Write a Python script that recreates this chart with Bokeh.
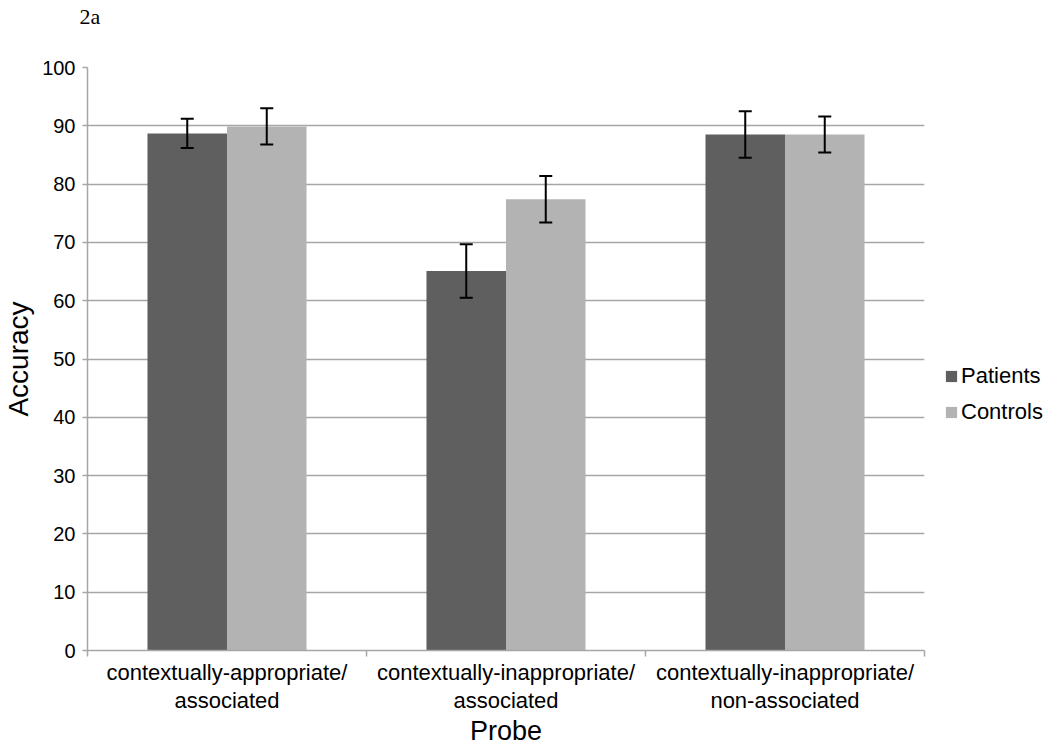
from bokeh.plotting import figure
from bokeh.models import (ColumnDataSource, FixedTicker, Whisker, TeeHead, Legend,
                          LegendItem, Range1d)
from bokeh.transform import dodge
from bokeh.embed import file_html
from bokeh.resources import INLINE

categories = ["contextually-appropriate/\nassociated",
              "contextually-inappropriate/\nassociated",
              "contextually-inappropriate/\nnon-associated"]
patients = [88.7, 65.1, 88.5]
patients_err = [2.5, 4.6, 4.0]
controls = [89.9, 77.4, 88.5]
controls_err = [3.1, 4.0, 3.1]
y_ticks = [0, 10, 20, 30, 40, 50, 60, 70, 80, 90, 100]

FONT = "Liberation Sans"
DARK = "#5f5f5f"
LIGHT = "#b3b3b3"
GRID = "#a6a6a6"

xpos = [i + 0.5 for i in range(len(categories))]
src = ColumnDataSource(dict(
    x=xpos, patients=patients, controls=controls,
    p_lo=[m - e for m, e in zip(patients, patients_err)],
    p_hi=[m + e for m, e in zip(patients, patients_err)],
    c_lo=[m - e for m, e in zip(controls, controls_err)],
    c_hi=[m + e for m, e in zip(controls, controls_err)],
))

p = figure(frame_width=837, frame_height=583, output_backend="svg", toolbar_location=None,
           x_range=Range1d(0, len(categories)), y_range=Range1d(0, 100),
           min_border_left=0, min_border_right=0, min_border_top=0,
           min_border_bottom=0)
p.outline_line_color = None

bw = 0.285
r1 = p.vbar(x=dodge("x", -bw / 2, range=p.x_range), top="patients", width=bw,
            source=src, fill_color=DARK, line_color=None)
r2 = p.vbar(x=dodge("x", bw / 2, range=p.x_range), top="controls", width=bw,
            source=src, fill_color=LIGHT, line_color=None)

for base, lo, hi in [(-bw / 2, "p_lo", "p_hi"), (bw / 2, "c_lo", "c_hi")]:
    w = Whisker(base=dodge("x", base, range=p.x_range), lower=lo, upper=hi,
                source=src, line_color="black", line_width=2, level="overlay",
                upper_head=TeeHead(size=13, line_color="black", line_width=2),
                lower_head=TeeHead(size=13, line_color="black", line_width=2))
    p.add_layout(w)

# axes
p.xaxis.ticker = FixedTicker(ticks=xpos, minor_ticks=list(range(len(categories) + 1)))
p.xaxis.major_label_overrides = {x: c for x, c in zip(xpos, categories)}
p.xaxis.major_tick_out = 0
p.xaxis.major_tick_in = 0
p.xaxis.minor_tick_out = 6
p.xaxis.minor_tick_in = 0
p.xaxis.minor_tick_line_color = GRID
p.xaxis.minor_tick_line_width = 1.5
p.xaxis.axis_line_color = GRID
p.xaxis.axis_line_width = 1.5
p.xaxis.major_label_text_font = FONT
p.xaxis.major_label_text_font_size = "22px"
p.xaxis.major_label_text_color = "black"
p.xaxis.major_label_text_line_height = 1.15
p.xaxis.major_label_standoff = 3
p.xaxis.axis_label = "Probe"
p.xaxis.axis_label_text_font = FONT
p.xaxis.axis_label_text_font_size = "27px"
p.xaxis.axis_label_text_font_style = "normal"
p.xaxis.axis_label_text_color = "black"
p.xaxis.axis_label_standoff = 0

p.yaxis.ticker = FixedTicker(ticks=y_ticks)
p.yaxis.minor_tick_line_color = None
p.yaxis.major_tick_out = 5
p.yaxis.major_tick_in = 0
p.yaxis.major_tick_line_color = GRID
p.yaxis.major_tick_line_width = 1.5
p.yaxis.axis_line_color = GRID
p.yaxis.axis_line_width = 1.5
p.yaxis.major_label_text_font = FONT
p.yaxis.major_label_text_font_size = "20px"
p.yaxis.major_label_text_color = "black"
p.yaxis.major_label_standoff = 7
p.yaxis.axis_label = "Accuracy"
p.yaxis.axis_label_text_font = FONT
p.yaxis.axis_label_text_font_size = "28px"
p.yaxis.axis_label_text_font_style = "normal"
p.yaxis.axis_label_text_color = "black"
p.yaxis.axis_label_standoff = 5

p.xgrid.grid_line_color = None
p.ygrid.grid_line_color = GRID
p.ygrid.grid_line_width = 1.5

# title (second, blank line reserves the space above the frame)
p.title.text = "2a\n "
p.title.text_font = "Liberation Serif"
p.title.text_font_size = "22px"
p.title.text_font_style = "normal"
p.title.text_color = "black"
p.title.text_line_height = 1.3
p.title.align = "left"
p.title.vertical_align = "top"
p.title.offset = -8
p.title.standoff = 7

legend = Legend(items=[LegendItem(label="Patients", renderers=[r1]),
                       LegendItem(label="Controls", renderers=[r2])],
                location=(20, 225), orientation="vertical",
                border_line_color=None, background_fill_alpha=0,
                label_text_font=FONT, label_text_font_size="22px",
                label_text_color="black", label_height=25,
                glyph_width=14, glyph_height=14, label_standoff=3,
                spacing=10, padding=0, margin=0)
p.add_layout(legend, "right")

open("out.html", "w").write(file_html(p, INLINE))
